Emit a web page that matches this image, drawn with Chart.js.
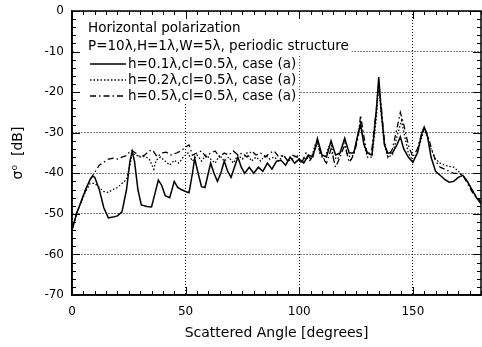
<!DOCTYPE html>
<html>
<head>
<meta charset="utf-8">
<script src="https://cdn.jsdelivr.net/npm/chart.js@4.4.1/dist/chart.umd.min.js"></script>
<style>
  html, body { margin: 0; padding: 0; background: #fff; }
  #wrap { width: 482px; height: 347px; }
</style>
</head>
<body>
<div id="wrap"><canvas id="chart" width="482" height="347"></canvas></div>
<script>
const FONT = '"DejaVu Sans", sans-serif';

const xTicks = [0, 50, 100, 150];
const headerLines = ["Horizontal polarization", "P=10\u03bb,H=1\u03bb,W=5\u03bb, periodic structure"];
const seriesLabels = [
  "h=0.1\u03bb,cl=0.5\u03bb, case (a)",
  "h=0.2\u03bb,cl=0.5\u03bb, case (a)",
  "h=0.5\u03bb,cl=0.5\u03bb, case (a)"
];

// h=0.1 (solid)
const angles1 = [0,2,4,6,8,9,10,12,14,16,18,20,22,24,25.5,26.5,27.5,29,30.5,33,35,36.5,38,39.5,41,43,45,46.5,48,50,51.5,53,54,55.5,57,58.5,60,61,62.5,64,65.5,67,68.5,70,71.5,73,74.5,76,78,80,82,84,86,88,90,92,94,96,98,100,102,104,106,108,110,112,114,116,118,120,122,124,126,127,128.5,130,132,134,135,136,137.5,139,141,143,144.5,146,148,150,152,154,155,156.5,158,160,162,164,166,168,170,172,174,176,178,180];
const values1 = [-54,-50,-47,-44,-41.5,-40.7,-41,-44,-48.5,-51,-50.8,-50.5,-49.5,-44,-37,-34.6,-37,-44,-47.8,-48.2,-48.3,-45,-41.7,-43,-45.5,-46,-42,-43.5,-44,-44.5,-44.8,-40,-36.3,-40,-43.3,-43.5,-40,-37.5,-40,-42,-40,-37,-39.5,-41,-38.5,-36,-38.5,-40,-38.5,-40,-38.5,-39.5,-37.5,-39,-37,-36.8,-38,-36,-37.5,-36.5,-37.5,-35.5,-36,-31.4,-35.5,-36,-32,-35.5,-35,-31.4,-35,-35,-30,-28,-33,-35,-35.5,-24,-16.3,-24,-33,-35,-35,-33,-31,-34,-36,-37.3,-35,-30,-28.6,-31,-36,-39.5,-40.5,-41.5,-42.2,-42,-41,-40.5,-42,-44,-46,-47.5];

// h=0.2 (dotted)
const angles2 = [0,2,4,6,8,10,12,14,16,18,20,22,24,25.5,26.5,28,30,32,34,36,37,39,41,43,45,47,49,51,53,55,57,59,61,63,65,67,69,71,73,75,77,79,81,83,85,87,89,91,93,95,97,99,101,103,105,107,108,109,111,113,114,115,117,119,120,121,123,125,127,128.5,130,132,134,135,136,137.5,139,141,143,145,146.5,148,150,152,154,155,156.5,158,160,162,164,166,168,170,172,174,176,178,180];
const values2 = [-54,-50,-47,-44.5,-42.5,-42.5,-43.5,-44.5,-44.7,-44,-43.5,-42.5,-41.5,-38,-35,-35.5,-36,-35.8,-36.5,-39,-36.8,-36,-37,-38,-36.8,-37.5,-36,-35,-37,-35.5,-37,-35.5,-36.5,-37.5,-35.5,-37,-36,-37.5,-35.5,-36.5,-35,-37,-36,-37,-35.5,-36.5,-36,-37,-35.5,-37,-36.5,-35.5,-37.5,-36,-37,-33,-32,-35,-36.5,-33.5,-32.5,-36,-36.5,-33,-32,-35,-36.5,-33,-27,-33,-36,-36,-26,-18,-25,-33,-36,-35.5,-31,-27,-31,-35,-37,-35,-31,-29,-31,-34,-36.5,-37.5,-38,-38.3,-38.5,-39.5,-40.5,-42,-44,-46,-47];

// h=0.5 (dash-dot)
const angles3 = [0,2,4,6,8,10,12,14,16,18,20,22,24,26,28,30,32,34,35.5,37.5,39.5,41.5,43.5,46,48,50,51.5,53,55,57,59,61,63,65,67,69,71,73,75,77,79,81,83,85,87,89,91,93,95,97,99,101,103,105,107,108,110,112,114,116,118,120,122,124,126,127,128.5,130,132,134,135,136,137.5,139,141,143,144.5,146,148,150,152,154,155,156.5,158,160,162,164,166,168,170,172,174,176,178,180];
const values3 = [-54,-50,-47,-44,-41.5,-39.8,-38,-37.3,-36.5,-36.3,-36.5,-36,-35.6,-34.3,-35,-36,-35.5,-34.5,-34.3,-36,-35,-34.8,-35.5,-35,-34.5,-33.5,-33,-35.5,-35,-34.5,-36,-35,-34.5,-36,-35,-35.5,-34.5,-35.5,-35,-36,-34.5,-35.5,-35,-36,-35,-34.5,-36,-35.5,-37,-35.5,-36,-37.5,-35,-36.5,-34,-32.5,-36,-37.5,-34,-38.5,-36,-33,-37.3,-35.5,-31,-25.7,-31,-35.5,-34,-24,-17.5,-23,-32,-36,-34,-29,-25,-28,-33,-36,-34,-30,-28.8,-30.5,-33.5,-37,-38.5,-39,-39.5,-40,-40,-40.5,-42.5,-44.5,-46,-47];

const seriesAngles = [angles1, angles2, angles3];
const seriesValues = [values1, values2, values3];
const dashes = [[], [1.5, 2], [6, 3, 1.5, 3]];
const widths = [1.5, 1.3, 1.3];

const datasets = seriesValues.map((vals, i) => ({
  label: seriesLabels[i],
  data: vals.map((v, j) => ({ x: seriesAngles[i][j], y: v })),
  showLine: true,
  borderColor: "#000",
  borderWidth: widths[i],
  borderDash: dashes[i],
  pointRadius: 0,
  tension: 0
}));

const decor = {
  id: "decor",
  beforeDatasetsDraw(chart) {
    const ctx = chart.ctx;
    ctx.save();
    ctx.font = "13.5px " + FONT;
    const x0 = 88;
    const rows = [28, 46, 64, 80, 96];
    const w1 = Math.max(...headerLines.map(t => ctx.measureText(t).width));
    ctx.fillStyle = "#fff";
    ctx.fillRect(74, 13, x0 + w1 + 3 - 74, 42);
    const w2 = Math.max(...seriesLabels.map(t => ctx.measureText(t).width));
    ctx.fillRect(74, 55, 128 + w2 + 3 - 74, 49);
    ctx.fillStyle = "#000";
    ctx.textBaseline = "middle";
    headerLines.forEach((t, i) => ctx.fillText(t, x0, rows[i]));
    seriesLabels.forEach((t, i) => {
      const y = rows[i + 2];
      ctx.beginPath();
      ctx.setLineDash(dashes[i]);
      ctx.lineWidth = widths[i];
      ctx.moveTo(90, y);
      ctx.lineTo(126, y);
      ctx.stroke();
      ctx.setLineDash([]);
      ctx.fillText(t, 128, y);
    });
    ctx.restore();
  },
  afterDraw(chart) {
    const { ctx, chartArea: a, scales: { x, y } } = chart;
    ctx.save();
    ctx.strokeStyle = "#000";
    ctx.lineWidth = 1;
    ctx.beginPath();
    for (let v = 0; v <= 180; v += 5) {
      const px = Math.round(x.getPixelForValue(v)) + 0.5;
      const len = v % 50 === 0 ? 8 : 4;
      ctx.moveTo(px, a.bottom); ctx.lineTo(px, a.bottom - len);
      ctx.moveTo(px, a.top); ctx.lineTo(px, a.top + len);
    }
    for (let v = -70; v <= 0; v += 2) {
      const py = Math.round(y.getPixelForValue(v)) + 0.5;
      const len = v % 10 === 0 ? 8 : 4;
      ctx.moveTo(a.left, py); ctx.lineTo(a.left + len, py);
      ctx.moveTo(a.right, py); ctx.lineTo(a.right - len, py);
    }
    ctx.stroke();
    ctx.lineWidth = 1.5;
    ctx.strokeRect(a.left, a.top, a.right - a.left, a.bottom - a.top);
    ctx.restore();
  }
};

new Chart(document.getElementById("chart"), {
  type: "scatter",
  data: { datasets },
  plugins: [decor],
  options: {
    responsive: false,
    animation: false,
    layout: { padding: { top: 11, right: 1, left: 0, bottom: 0 } },
    plugins: { legend: { display: false }, tooltip: { enabled: false } },
    scales: {
      x: {
        type: "linear",
        min: 0,
        max: 180,
        afterBuildTicks: s => { s.ticks = xTicks.map(v => ({ value: v })); },
        afterFit: s => { s.height = 52; s.paddingLeft = 0; s.paddingRight = 0; },
        ticks: { color: "#000", font: { family: FONT, size: 12 }, padding: 10, maxRotation: 0 },
        grid: { color: "#000", lineWidth: 1, drawTicks: false },
        border: { display: true, color: "#000", width: 1.5, dash: [1, 2] },
        title: { display: true, text: "Scattered Angle [degrees]", color: "#000", font: { family: FONT, size: 14 }, padding: { top: 2, bottom: 5 } }
      },
      y: {
        min: -70,
        max: 0,
        afterFit: s => { s.width = 72; s.paddingTop = 0; s.paddingBottom = 0; },
        ticks: { stepSize: 10, color: "#000", font: { family: FONT, size: 12 }, padding: 8 },
        grid: { color: "#000", lineWidth: 1, drawTicks: false },
        border: { display: true, color: "#000", width: 1.5, dash: [1, 2] },
        title: { display: true, text: "\u03c3\u2070  [dB]", color: "#000", font: { family: FONT, size: 14 }, padding: { top: 10, bottom: 0 } }
      }
    }
  }
});
</script>
</body>
</html>
